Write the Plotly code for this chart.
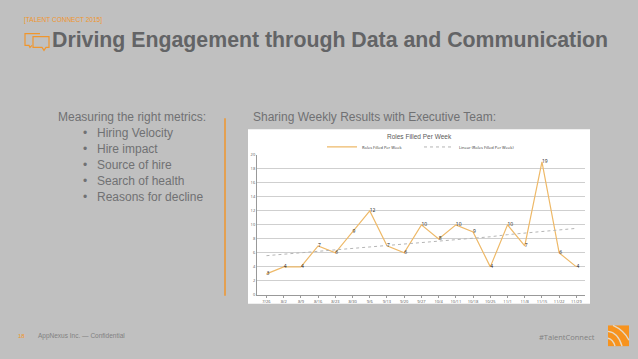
import plotly.graph_objects as go

weeks = ["7/26","8/2","8/9","8/16","8/23","8/30","9/6","9/13","9/20","9/27","10/4","10/11","10/18","10/25","11/1","11/8","11/15","11/22","11/29"]
filled = [3,4,4,7,6,9,12,7,6,10,8,10,9,4,10,7,19,6,4]
trend = [5.6,5.8,6.0,6.2,6.5,6.7,6.9,7.1,7.3,7.5,7.7,7.9,8.1,8.3,8.6,8.8,9.0,9.3,9.5]
bullets = ["Hiring Velocity","Hire impact","Source of hire","Search of health","Reasons for decline"]
bullet_rows = [132,148,164,181,197]
W, H = 638, 359
px = lambda x: x / W
py = lambda y: 1 - y / H
ORANGE = "#f0962d"
GREY = "#636466"
BODY = "#707173"

def rect(x0, y0, x1, y1, **kw):
    return dict(type="rect", xref="paper", yref="paper", x0=px(x0), x1=px(x1), y0=py(y0), y1=py(y1), **kw)

def text(x, y, s, size, color, anchor="left", bold=False, family="Liberation Sans"):
    return dict(xref="paper", yref="paper", x=px(x), y=py(y), text=f"<b>{s}</b>" if bold else s, showarrow=False,
                xanchor=anchor, yanchor="middle", font=dict(size=size, color=color, family=family))

fig = go.Figure()
fig.add_trace(go.Scatter(x=weeks, y=filled, mode="lines+text", name="Roles Filled Per Week",
                         line=dict(color="#eeb968", width=1.2), text=[str(v) for v in filled],
                         textposition="middle right", textfont=dict(size=5, color="#222222"),
                         cliponaxis=False))
fig.add_trace(go.Scatter(x=weeks, y=trend, mode="lines", name="Linear (Roles Filled Per Week)",
                         line=dict(color="#b5b5b5", width=1, dash="dot")))

shapes = [
    rect(248, 128, 590, 305, fillcolor="#ffffff", line_width=0, layer="below"),
    dict(type="line", xref="paper", yref="paper", x0=px(225), x1=px(225), y0=py(117), y1=py(297),
         line=dict(color=ORANGE, width=1.5)),
    dict(type="path", xref="paper", yref="paper", line=dict(color=ORANGE, width=1.2),
         path=f"M {px(40)} {py(31)} L {px(25)} {py(31)} L {px(25)} {py(43)} L {px(29)} {py(43)} L {px(30)} {py(45)} L {px(32)} {py(43)}"),
    dict(type="path", xref="paper", yref="paper", line=dict(color=ORANGE, width=1.2),
         path=f"M {px(33)} {py(34)} L {px(49)} {py(34)} L {px(49)} {py(45)} L {px(46)} {py(45)} L {px(44)} {py(48)} L {px(42)} {py(45)} L {px(33)} {py(45)} Z"),
    rect(608, 327, 629, 348, fillcolor="#f7931e", line_width=0),
    dict(type="path", xref="paper", yref="paper", line=dict(color="#e6d9c5", width=1.4),
         path=f"M {px(608)} {py(333)} Q {px(618)} {py(334)} {px(622)} {py(348)}"),
    dict(type="path", xref="paper", yref="paper", line=dict(color="#e6d9c5", width=1.4),
         path=f"M {px(613)} {py(327)} Q {px(624)} {py(332)} {px(629)} {py(342)}"),
    dict(type="path", xref="paper", yref="paper", line=dict(color="#e6d9c5", width=1.4),
         path=f"M {px(608)} {py(340)} Q {px(613)} {py(341)} {px(615)} {py(348)}"),
]

ann = [
    text(22, 17, "[TALENT CONNECT 2015]", 6.5, ORANGE),
    text(50, 38, "Driving Engagement through Data and Communication", 21.3, GREY, bold=True),
    text(56, 116, "Measuring the right metrics:", 12, BODY),
    text(251, 116, "Sharing Weekly Results with Executive Team:", 12, BODY),
    text(419, 135, "Roles Filled Per Week", 6.5, "#595959", anchor="center"),
    text(16, 338, "18", 6, ORANGE),
    text(36, 338, "AppNexus Inc. — Confidential", 6.5, "#808080"),
    text(597, 339, "#TalentConnect", 7.5, "#808080", anchor="right", family="Open Sans"),
]
for b, row in zip(bullets, bullet_rows):
    ann.append(text(81, row, "•", 12, BODY))
    ann.append(text(95, row, b, 12, BODY))

fig.update_layout(
    width=W, height=H, autosize=False, margin=dict(l=0, r=0, t=0, b=0),
    paper_bgcolor="#c0c0c0", plot_bgcolor="#ffffff", showlegend=True,
    legend=dict(orientation="h", xref="paper", yref="paper", x=px(419), y=py(146), xanchor="center", yanchor="middle",
                font=dict(size=4, color="#333333"), bgcolor="rgba(0,0,0,0)", itemwidth=30,
                entrywidth=52, entrywidthmode="pixels"),
    xaxis=dict(domain=[px(257), px(585)], type="category", range=[-0.55, 18.5], showgrid=False, showline=True,
               linecolor="#999999", linewidth=1, ticks="outside", ticklen=2, tickcolor="#999999",
               tickfont=dict(size=4, color="#555555"), tickangle=0),
    yaxis=dict(domain=[py(296), py(154)], range=[0, 20], dtick=2, gridcolor="#cfcfcf", gridwidth=1,
               showline=True, linecolor="#999999", tickfont=dict(size=4, color="#555555"), zeroline=False),
    shapes=shapes, annotations=ann,
)
fig.write_html("out.html", config={"displayModeBar": False},
               post_script="document.body.style.margin='0';document.documentElement.style.background='#c0c0c0';document.body.style.overflow='hidden';")
